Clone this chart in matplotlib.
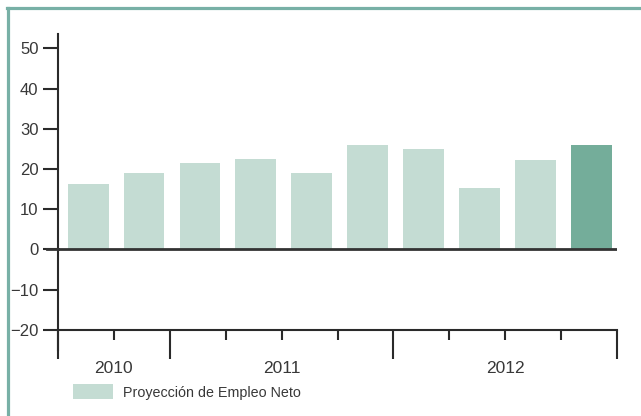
import matplotlib.pyplot as plt
from matplotlib.lines import Line2D
from matplotlib import font_manager

# Datos: Proyección de Empleo Neto por trimestre (3T 2010 - 4T 2012)
trimestres = ["T3 2010", "T4 2010", "T1 2011", "T2 2011", "T3 2011", "T4 2011",
              "T1 2012", "T2 2012", "T3 2012", "T4 2012"]
valores = [16.3, 19, 21.5, 22.5, 19, 26, 25, 15.3, 22.2, 26]
anios = ["2010", "2011", "2012"]
trimestres_por_anio = [2, 4, 4]

color_claro = "#c4dcd3"
color_oscuro = "#74ad9a"
color_borde = "#78b0a6"
color_eje = "#2a2a2a"

nombres = {f.name for f in font_manager.fontManager.ttflist}
fuente = "Liberation Sans" if "Liberation Sans" in nombres else "DejaVu Sans"
fuente_estrecha = "Liberation Sans Narrow" if "Liberation Sans Narrow" in nombres else fuente
plt.rcParams["font.family"] = fuente

fig = plt.figure(figsize=(6.41, 4.16), dpi=100)
ax = fig.add_axes([58 / 641, 1 - 350 / 416, (617 - 58) / 641, (350 - 34) / 416])

x = [i + 0.54 for i in range(len(valores))]
colores = [color_claro] * (len(valores) - 1) + [color_oscuro]
barras = ax.bar(x, valores, width=0.73, color=colores, zorder=2)

ax.set_xlim(0, len(valores))
ax.set_ylim(-25.0, 53.6)

# Eje Y
ax.set_yticks(range(-20, 51, 10))
ax.tick_params(axis="y", direction="out", length=11, width=1.5, color=color_eje,
               labelsize=12, labelcolor="#383838", pad=3)
for s in ["top", "right"]:
    ax.spines[s].set_visible(False)
ax.spines["left"].set_color(color_eje)
ax.spines["left"].set_linewidth(1.5)

# Eje X situado en -20
ax.spines["bottom"].set_position(("data", -20))
ax.spines["bottom"].set_color(color_eje)
ax.spines["bottom"].set_linewidth(1.5)
limites = [0]
for n in trimestres_por_anio:
    limites.append(limites[-1] + n)
ax.set_xticks(limites)
ax.set_xticks([i for i in range(1, len(valores)) if i not in limites], minor=True)
ax.tick_params(axis="x", which="major", direction="out", length=21, width=1.5,
               color=color_eje, labelbottom=False)
ax.tick_params(axis="x", which="minor", direction="out", length=7, width=1.5,
               color=color_eje)

# Línea de cero
ax.axhline(0, color="#333333", linewidth=2, zorder=3)
ax.plot([-0.2, 0], [0, 0], color="#333333", linewidth=2, clip_on=False, zorder=3)

# Etiquetas de los años
for k, anio in enumerate(anios):
    centro = (limites[k] + limites[k + 1]) / 2
    ax.text(centro, -29.5, anio, ha="center", va="center", fontsize=12.5,
            color="#383838")

# Leyenda
leg = fig.legend([barras[0]], ["Proyección de Empleo Neto"],
                 loc="center left", bbox_to_anchor=(73 / 641, 1 - 392 / 416),
                 frameon=False, borderpad=0, borderaxespad=0,
                 handlelength=2.8, handleheight=1.2, handletextpad=0.7,
                 prop={"family": fuente_estrecha, "size": 10.3})
for t in leg.get_texts():
    t.set_color("#383838")

# Marco superior e izquierdo
fig.add_artist(Line2D([7.5 / 641, 7.5 / 641], [0, 1 - 7.5 / 416], color=color_borde,
                      linewidth=2.3, transform=fig.transFigure))
fig.add_artist(Line2D([6.5 / 641, 1], [1 - 7.5 / 416, 1 - 7.5 / 416], color=color_borde,
                      linewidth=2.3, transform=fig.transFigure))

fig.savefig("out.png", dpi=100)
